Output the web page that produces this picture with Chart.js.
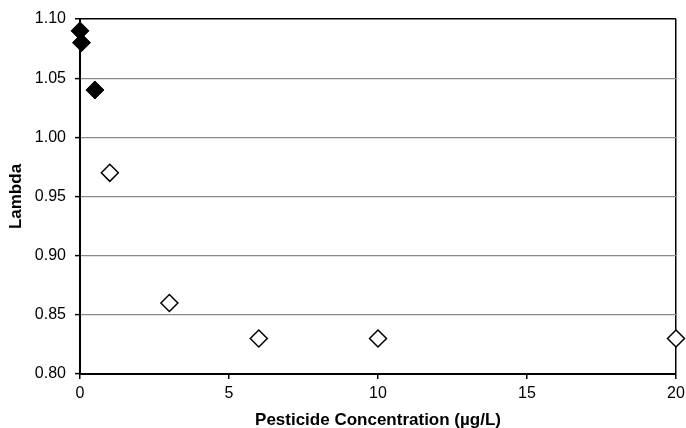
<!DOCTYPE html>
<html>
<head>
<meta charset="utf-8">
<script src="https://cdn.jsdelivr.net/npm/chart.js@4/dist/chart.umd.min.js"></script>
<style>
  html, body { margin: 0; padding: 0; background: #fff; }
  #wrap { width: 686px; height: 428px; }
</style>
</head>
<body>
<div id="wrap"><canvas id="c" width="686" height="428"></canvas></div>
<script>
// Population growth rate (lambda) against pesticide concentration
const lowConc = [0, 0.05, 0.5];
const lowLambda = [1.09, 1.08, 1.04];
const highConc = [1, 3, 6, 10, 20];
const highLambda = [0.97, 0.86, 0.83, 0.83, 0.83];
const xTicks = [0, 5, 10, 15, 20];
const yTicks = [0.80, 0.85, 0.90, 0.95, 1.00, 1.05, 1.10];

const toPoints = (xs, ys) => xs.map((x, i) => ({ x: x, y: ys[i] }));
const family = '"Liberation Sans", Arial, sans-serif';
const tickFont = { family: family, size: 16 };
const titleFont = { family: family, size: 17, weight: 'bold', lineHeight: 1 };

new Chart(document.getElementById('c'), {
  type: 'scatter',
  data: {
    datasets: [
      {
        data: toPoints(lowConc, lowLambda),
        pointStyle: 'rectRot',
        pointRadius: 9,
        pointBackgroundColor: '#000',
        pointBorderColor: '#000',
        pointBorderWidth: 1,
        clip: false
      },
      {
        data: toPoints(highConc, highLambda),
        pointStyle: 'rectRot',
        pointRadius: 8.5,
        pointBackgroundColor: '#fff',
        pointBorderColor: '#000',
        pointBorderWidth: 1.5,
        clip: false
      }
    ]
  },
  options: {
    responsive: false,
    animation: false,
    layout: { padding: { top: 19, right: 10, left: 0, bottom: 0 } },
    plugins: { legend: { display: false }, tooltip: { enabled: false } },
    scales: {
      x: {
        type: 'linear',
        min: 0, max: 20,
        afterBuildTicks: s => { s.ticks = xTicks.map(v => ({ value: v })); },
        afterFit: s => { s.height = 54; s.paddingLeft = 0; s.paddingRight = 0; },
        grid: {
          color: ctx => (ctx.tick && ctx.tick.value === 20 ? '#000' : 'rgba(0,0,0,0)'),
          lineWidth: 1.5,
          tickColor: '#000',
          tickLength: 5,
          tickWidth: 1.5
        },
        border: { color: '#000', width: 2 },
        ticks: { color: '#000', font: tickFont, padding: 5, maxRotation: 0 },
        title: {
          display: true,
          text: 'Pesticide Concentration (µg/L)',
          color: '#000',
          font: titleFont,
          padding: { top: 0, bottom: -1 }
        }
      },
      y: {
        type: 'linear',
        min: 0.80, max: 1.10,
        afterBuildTicks: s => { s.ticks = yTicks.map(v => ({ value: v })); },
        afterFit: s => { s.width = 80; s.paddingTop = 0; s.paddingBottom = 0; },
        grid: {
          color: ctx => (ctx.tick && Math.abs(ctx.tick.value - 1.10) < 1e-9 ? '#000' : '#8a8a8a'),
          lineWidth: ctx => (ctx.tick && Math.abs(ctx.tick.value - 1.10) < 1e-9 ? 1.5 : 1.2),
          tickColor: '#000',
          tickLength: 5,
          tickWidth: 1.5
        },
        border: { color: '#000', width: 2 },
        ticks: {
          color: '#000', font: tickFont, padding: 9,
          callback: v => Number(v).toFixed(2)
        },
        title: {
          display: true,
          text: 'Lambda',
          color: '#000',
          font: titleFont,
          padding: { top: 8, bottom: 0 }
        }
      }
    }
  }
});
</script>
</body>
</html>
